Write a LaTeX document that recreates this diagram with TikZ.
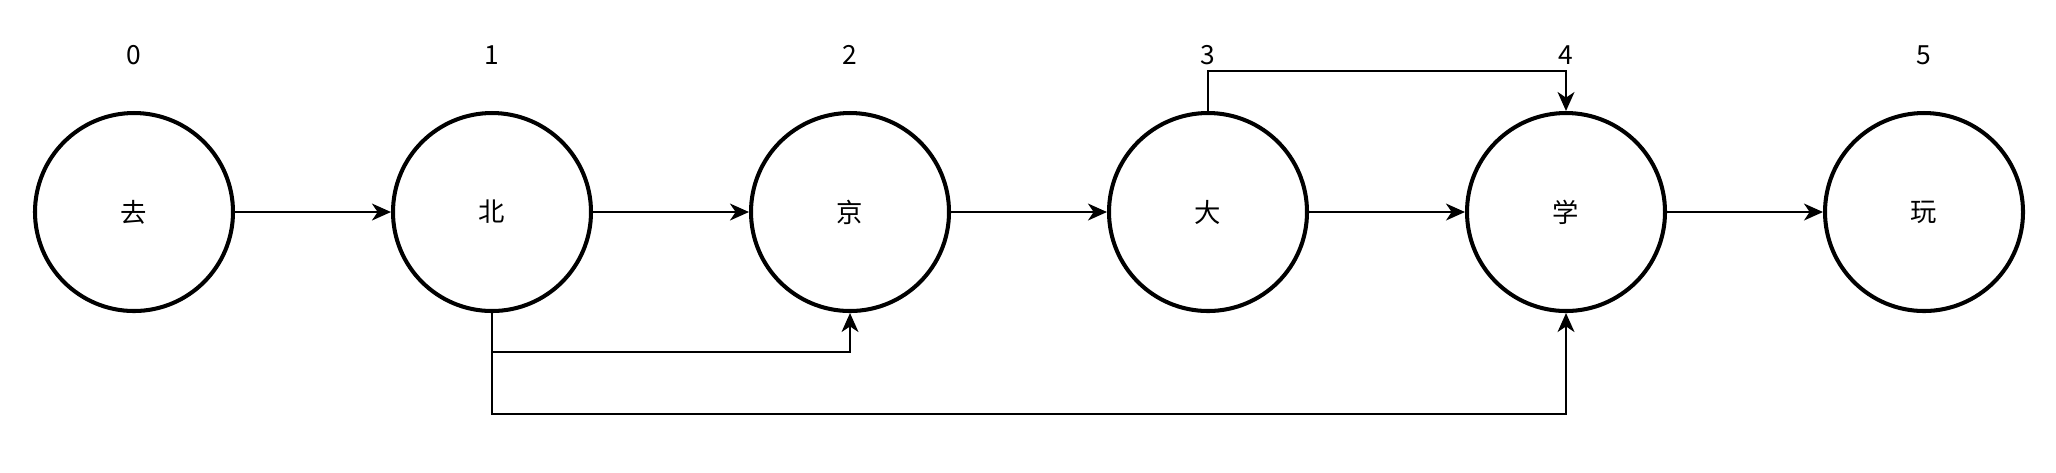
\documentclass[tikz,border=0pt]{standalone}
\usepackage{fontspec}
\setmainfont{Noto Sans CJK SC}
\usepackage{tikz}
\usetikzlibrary{arrows.meta,positioning}
\tikzset{
    word/.style={circle, draw, minimum size=1.98cm, inner sep=0pt, line width=1.15pt, font=\fontsize{7.5}{9}\selectfont},
    index/.style={font=\fontsize{7.5}{9}\selectfont},
    edge/.style={draw, line width=0.65pt, -{Stealth[length=5.4pt, width=4.8pt, inset=1.6pt]}}
}
\begin{document}
\begin{tikzpicture}
    \useasboundingbox (0,0) rectangle (20.56,-4.72);
    % Nodes
    \node[word] (qu)   at (1.34,-2.12)  {去};
    \node[word] (bei)  at (4.92,-2.12)  {北};
    \node[word] (jing) at (8.50,-2.12)  {京};
    \node[word] (da)   at (12.08,-2.12) {大};
    \node[word] (xue)  at (15.66,-2.12) {学};
    \node[word] (wan)  at (19.24,-2.12) {玩};

    % indices
    \node[index] (i0) at (1.34,-0.55)  {0};
    \node[index] (i1) at (4.92,-0.55)  {1};
    \node[index] (i2) at (8.50,-0.55)  {2};
    \node[index] (i3) at (12.08,-0.55) {3};
    \node[index] (i4) at (15.66,-0.55) {4};
    \node[index] (i5) at (19.24,-0.55) {5};

    % edges
    \draw[edge] (qu) -- (bei);
    \draw[edge] (bei) -- (jing);
    \draw[edge] (jing) -- (da);
    \draw[edge] (da) -- (xue);
    \draw[edge] (xue) -- (wan);
    \draw[edge] (bei.south) -- ++(0,-0.39) -| (jing.south);
    \draw[edge] (bei.south) -- ++(0,-1.01) -| (xue.south);
    \draw[edge] (da.north) -- ++(0,0.40) -| (xue.north);
\end{tikzpicture}
\end{document}
